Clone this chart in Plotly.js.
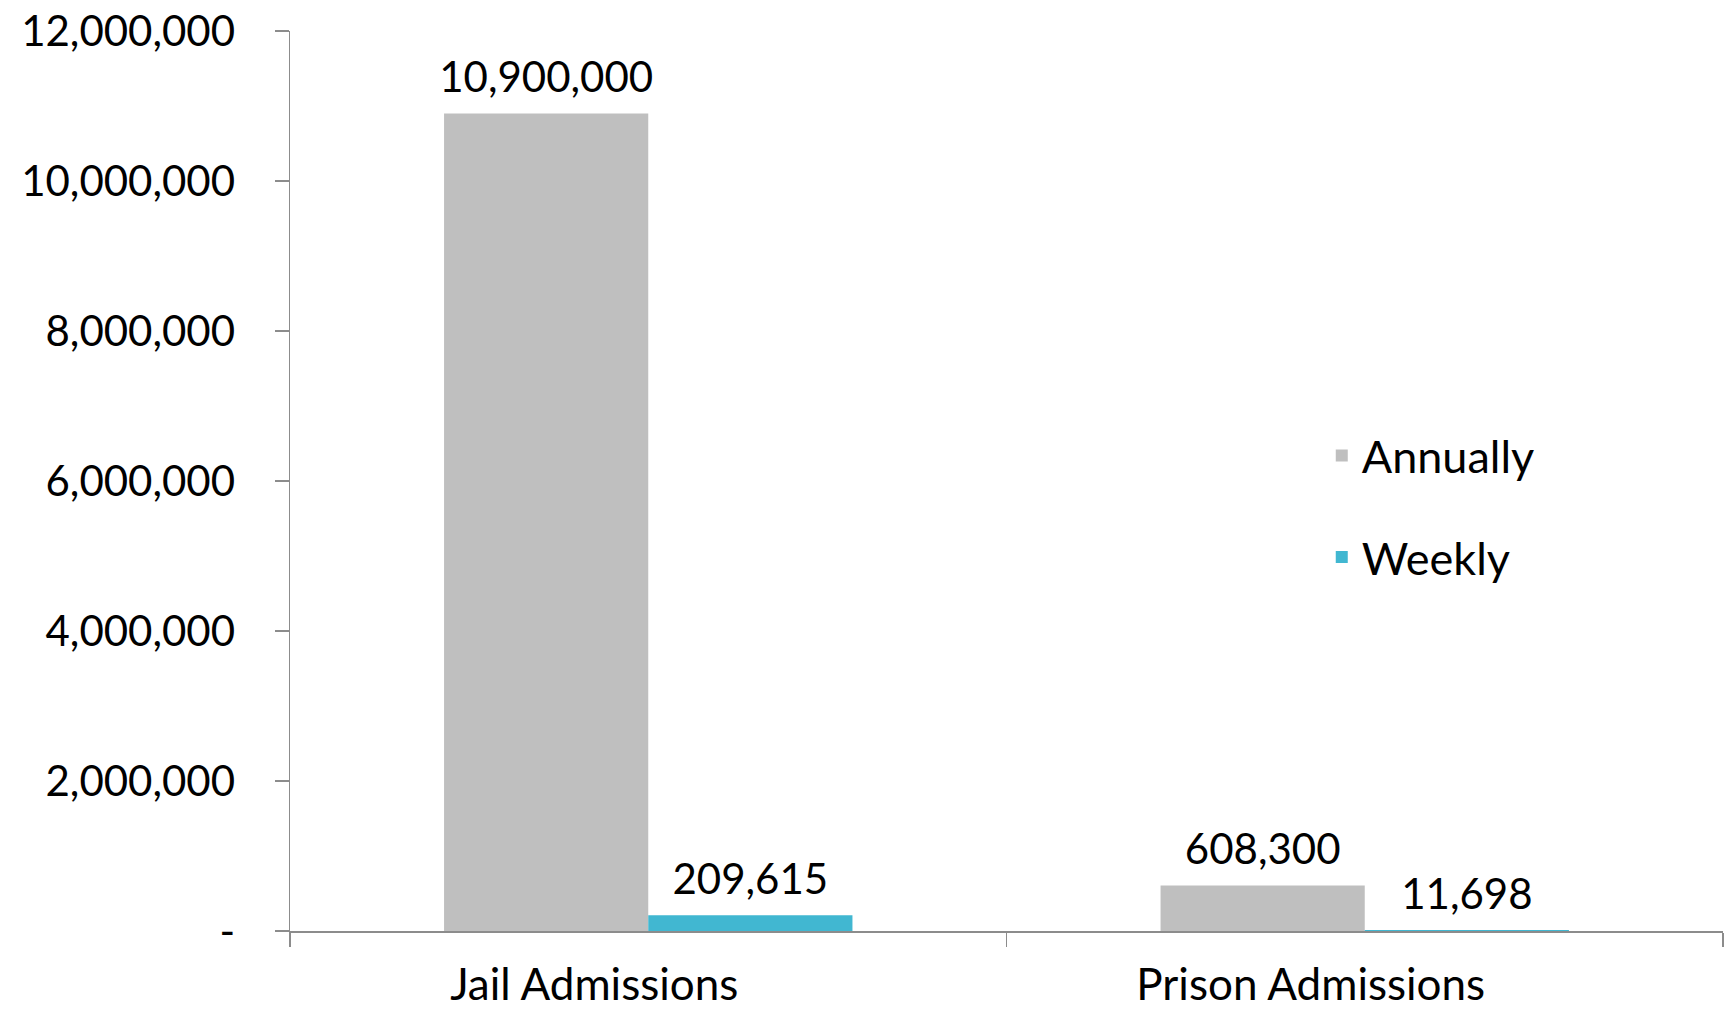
<!DOCTYPE html>
<html>
<head>
<meta charset="utf-8">
<script src="https://cdn.plot.ly/plotly-3.0.1.min.js"></script>
<style>html,body{margin:0;padding:0;background:#fff;}#chart{width:1734px;height:1013px;}</style>
</head>
<body>
<div id="chart"></div>
<script>
const categories = ["Jail Admissions", "Prison Admissions"];
const seriesNames = ["Annually", "Weekly"];
const annually = [10900000, 608300];
const weekly = [209615, 11698];
const yTickVals = [0, 2000000, 4000000, 6000000, 8000000, 10000000, 12000000];
const yTickText = ["-", "2,000,000", "4,000,000", "6,000,000", "8,000,000", "10,000,000", "12,000,000"];

const FONT = "Lato, 'Open Sans', sans-serif";
const colors = ["#BFBFBF", "#41B7D1"];
const fmt = v => v.toLocaleString("en-US");
const seriesVals = [annually, weekly];

const traces = [];
seriesVals.forEach((vals, i) => {
  traces.push({
    type: "bar", name: seriesNames[i], x: categories, y: vals,
    offsetgroup: "g" + i, legendgroup: "g" + i,
    marker: {color: colors[i]}, hoverinfo: "skip"
  });
});
seriesVals.forEach((vals, i) => {
  traces.push({
    type: "scatter", mode: "markers+text", x: categories, y: vals,
    offsetgroup: "g" + i, showlegend: false, hoverinfo: "skip",
    marker: {size: 16, opacity: 0, color: colors[i]},
    text: vals.map(fmt), textposition: "top center",
    textfont: {family: FONT, size: 42, color: "#000"},
    cliponaxis: false
  });
});

const layout = {
  width: 1734, height: 1013,
  margin: {l: 290, r: 11, t: 31, b: 82},
  paper_bgcolor: "#fff", plot_bgcolor: "#fff",
  barmode: "group", bargap: 0.43, bargroupgap: 0,
  scattermode: "group", scattergap: 0.43,
  font: {family: FONT, color: "#000"},
  showlegend: true,
  legend: {x: 0.72, y: 0.568, xanchor: "left", yanchor: "top",
           font: {family: FONT, size: 45, color: "#000"},
           traceorder: "grouped", tracegroupgap: 40, bgcolor: "rgba(0,0,0,0)"},
  xaxis: {
    type: "category", showline: true, linecolor: "#8C8C8C", linewidth: 1.5,
    ticks: "outside", tickson: "boundaries", ticklen: 14, tickcolor: "#8C8C8C", tickwidth: 1.5,
    showgrid: false, zeroline: false,
    tickfont: {family: FONT, size: 44, color: "#000"},
    ticklabelshift: -54, ticklabelstandoff: 15
  },
  yaxis: {
    range: [0, 12000000], showline: true, linecolor: "#8C8C8C", linewidth: 1.5,
    ticks: "outside", ticklen: 14, tickcolor: "#8C8C8C", tickwidth: 1.5,
    tickvals: yTickVals, ticktext: yTickText,
    showgrid: false, zeroline: false,
    tickfont: {family: FONT, size: 42, color: "#000"},
    ticklabelstandoff: 31
  }
};

Plotly.newPlot("chart", traces, layout, {displayModeBar: false, staticPlot: true});
</script>
</body>
</html>
